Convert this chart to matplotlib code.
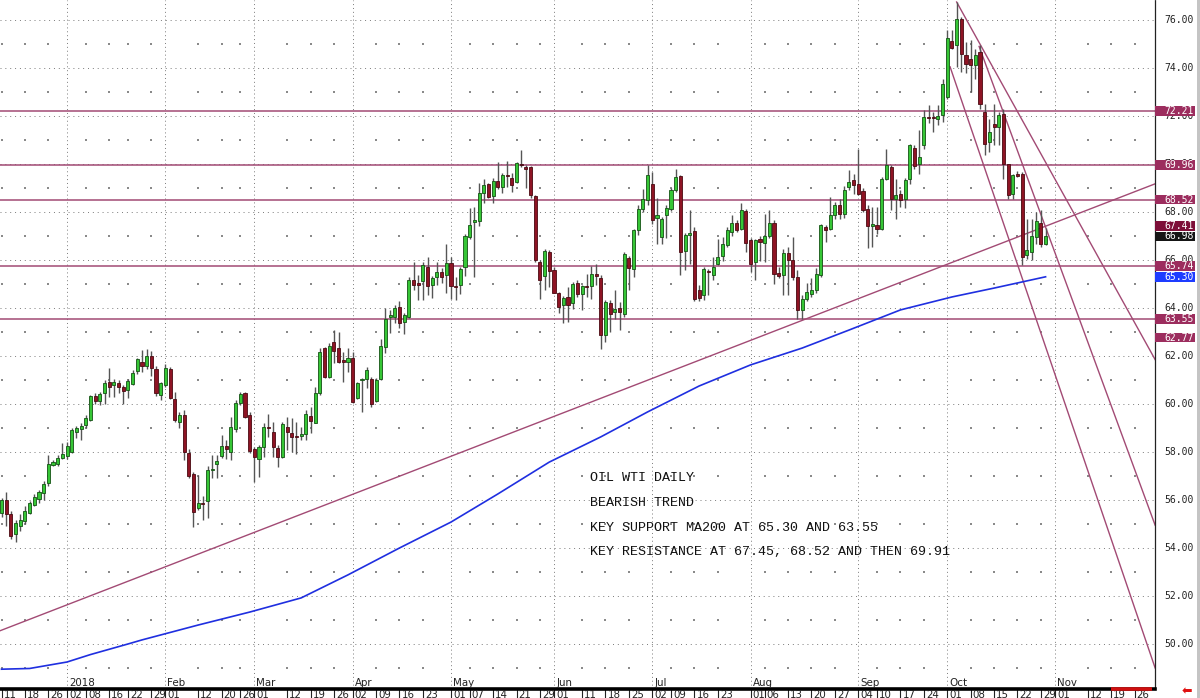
import numpy as np
import pandas as pd
import matplotlib
matplotlib.use("Agg")
import matplotlib.pyplot as plt
import matplotlib.transforms as mtransforms
from matplotlib.patches import Rectangle

# ---------------- data ----------------
first_day = "2017-12-11"
last_day = "2018-10-30"
axis_end_day = "2018-11-30"
exchange_holidays = ["2017-12-25", "2018-01-01", "2018-01-15", "2018-02-19",
                     "2018-03-30", "2018-05-28", "2018-07-04", "2018-09-03"]

opens = [55.47, 55.99, 55.43, 54.57, 54.91, 55.12, 55.47, 55.81, 56.06, 56.30,
         56.71, 57.47, 57.51, 57.75, 57.85, 58.02, 58.85, 58.95, 59.13, 59.33,
         60.34, 60.12, 60.44, 60.92, 60.78, 60.88, 60.72, 60.58, 60.85, 61.38,
         61.75, 61.60, 62.00, 61.45, 60.38, 60.80, 61.45, 60.20, 59.24, 59.54,
         57.94, 57.08, 55.65, 55.87, 55.96, 57.25, 57.49, 57.83, 58.25, 58.00,
         58.94, 60.06, 60.47, 59.54, 58.11, 57.70, 58.22, 59.05, 58.85, 58.15,
         57.78, 59.06, 58.78, 58.66, 58.68, 58.75, 59.51, 59.22, 60.47, 62.32,
         61.14, 62.60, 62.32, 61.83, 61.76, 61.90, 60.24, 61.00, 61.03, 61.03,
         60.14, 61.03, 62.39, 63.64, 63.61, 64.03, 63.43, 63.64, 65.17, 65.06,
         65.14, 65.72, 64.96, 65.31, 65.51, 65.38, 65.86, 64.92, 64.96, 65.72,
         66.97, 67.60, 67.64, 68.81, 69.15, 68.67, 69.29, 69.03, 69.53, 69.40,
         69.26, 70.00, 69.89, 69.86, 68.67, 65.93, 65.33, 66.35, 65.58, 64.64,
         64.13, 64.46, 64.22, 65.05, 64.60, 64.92, 64.92, 65.43, 65.24, 62.86,
         64.22, 63.83, 64.00, 63.76, 66.08, 65.63, 67.23, 68.14, 68.49, 69.18,
         67.75, 66.96, 67.86, 68.14, 68.90, 69.50, 66.36, 67.03, 67.19, 64.73,
         64.53, 65.56, 65.36, 65.85, 66.17, 66.64, 67.17, 67.56, 67.31, 68.03,
         66.82, 65.92, 66.89, 66.72, 67.00, 67.56, 65.46, 65.39, 66.31, 65.99,
         65.29, 63.90, 64.39, 64.60, 64.74, 65.36, 67.38, 67.31, 67.89, 68.31,
         67.90, 69.04, 69.32, 69.18, 68.86, 68.14, 67.43, 67.47, 67.31, 69.39,
         69.88, 68.56, 68.77, 68.56, 69.39, 70.67, 70.01, 70.78, 71.96, 71.92,
         71.86, 72.03, 72.79, 75.11, 74.95, 76.06, 74.53, 74.39, 74.14, 74.67,
         72.17, 70.92, 71.68, 71.54, 72.10, 69.99, 68.76, 69.60, 69.60, 66.19,
         66.33, 66.96, 67.56, 66.68]
highs = [56.10, 56.34, 55.56, 55.15, 55.40, 55.74, 55.95, 56.23, 56.43, 56.78,
         57.88, 57.68, 57.88, 58.37, 58.40, 58.99, 59.10, 59.20, 59.54, 60.37,
         60.44, 60.51, 60.99, 61.48, 61.03, 60.99, 60.78, 61.06, 61.41, 61.92,
         62.23, 62.30, 62.20, 61.60, 60.93, 61.65, 61.55, 60.50, 59.68, 59.75,
         58.13, 57.18, 57.04, 56.17, 57.42, 57.88, 57.88, 58.70, 58.50, 59.44,
         60.17, 60.50, 60.50, 59.68, 58.22, 58.30, 59.20, 59.60, 59.27, 58.29,
         59.27, 59.47, 59.40, 59.26, 59.06, 59.75, 59.89, 60.72, 62.32, 62.39,
         62.53, 63.08, 63.01, 62.18, 62.32, 62.18, 60.93, 61.07, 61.56, 61.14,
         61.07, 62.69, 63.99, 63.92, 64.12, 64.31, 63.78, 65.31, 65.93, 65.38,
         65.93, 66.14, 65.33, 65.93, 65.65, 66.67, 66.14, 65.31, 65.72, 67.08,
         68.15, 68.22, 69.19, 69.36, 69.22, 69.40, 70.10, 69.61, 70.14, 69.61,
         70.10, 70.58, 69.96, 69.92, 68.71, 66.00, 66.44, 66.42, 65.72, 64.68,
         64.50, 64.87, 65.08, 65.15, 64.94, 65.43, 65.75, 65.85, 65.36, 64.32,
         64.32, 64.74, 64.25, 66.33, 66.17, 67.30, 68.28, 68.97, 69.94, 69.67,
         68.58, 67.79, 68.28, 69.00, 69.80, 69.55, 67.14, 68.07, 67.37, 64.94,
         65.71, 65.64, 66.13, 66.89, 66.96, 67.38, 67.86, 67.65, 68.39, 68.14,
         66.92, 66.86, 67.00, 67.93, 68.07, 67.65, 65.71, 66.47, 66.54, 66.96,
         65.57, 64.53, 65.06, 65.25, 65.67, 67.48, 67.45, 68.63, 68.42, 68.56,
         69.10, 69.74, 69.60, 70.64, 69.00, 68.28, 68.21, 68.21, 69.46, 70.64,
         69.95, 69.39, 68.90, 69.42, 70.85, 70.78, 71.40, 72.24, 72.47, 72.17,
         72.44, 73.56, 75.57, 75.57, 76.75, 76.13, 75.08, 75.15, 74.81, 74.94,
         72.51, 71.89, 72.51, 72.17, 72.31, 70.01, 69.60, 69.70, 69.67, 67.72,
         67.70, 68.00, 68.07, 67.33]
lows = [55.30, 54.91, 54.36, 54.27, 54.70, 55.01, 55.40, 55.74, 55.88, 56.02,
        56.57, 57.40, 57.40, 57.70, 57.70, 57.95, 58.60, 58.50, 59.02, 59.29,
        59.98, 59.96, 60.02, 60.30, 60.30, 60.44, 60.02, 60.23, 60.78, 61.27,
        61.34, 61.45, 61.15, 60.35, 60.17, 60.70, 60.20, 59.26, 58.99, 57.67,
        56.90, 54.89, 55.58, 55.17, 55.24, 56.90, 56.90, 57.74, 57.70, 57.67,
        58.85, 59.96, 59.40, 57.94, 56.76, 56.95, 57.80, 58.64, 57.78, 57.39,
        57.74, 58.08, 58.00, 57.92, 58.50, 58.50, 58.81, 59.20, 60.38, 61.07,
        61.07, 61.70, 61.70, 60.93, 61.35, 60.03, 60.20, 59.68, 60.65, 59.89,
        60.10, 61.00, 62.14, 62.94, 63.36, 63.15, 62.92, 63.57, 64.75, 64.33,
        64.33, 64.54, 64.40, 64.96, 65.03, 64.61, 64.36, 64.33, 64.58, 65.33,
        66.86, 65.31, 67.42, 68.36, 68.57, 68.36, 68.94, 68.81, 69.06, 68.85,
        69.19, 69.89, 68.99, 68.57, 65.93, 64.36, 64.75, 64.89, 64.61, 63.78,
        63.36, 63.42, 63.97, 64.46, 63.90, 64.46, 64.39, 64.94, 62.30, 62.60,
        63.00, 63.55, 63.07, 63.62, 64.73, 65.29, 67.03, 68.00, 68.28, 67.51,
        66.68, 66.68, 66.92, 68.03, 68.83, 65.36, 65.57, 65.85, 64.30, 64.30,
        64.35, 64.53, 65.15, 65.78, 65.95, 66.54, 67.00, 67.17, 67.24, 66.33,
        65.50, 65.15, 65.95, 65.92, 66.92, 65.01, 65.25, 64.53, 64.53, 65.15,
        63.53, 63.53, 64.28, 64.46, 64.64, 65.29, 66.73, 67.24, 67.70, 67.72,
        67.75, 68.90, 68.76, 68.69, 68.00, 66.50, 66.54, 67.10, 67.24, 69.32,
        68.07, 67.72, 68.21, 68.17, 69.18, 69.81, 69.60, 70.64, 71.72, 71.33,
        71.61, 71.75, 72.72, 74.81, 74.04, 73.83, 73.81, 73.00, 73.56, 72.30,
        70.39, 70.50, 70.78, 70.78, 69.39, 68.56, 68.56, 69.46, 65.78, 66.06,
        65.99, 66.68, 66.54, 66.64]
closes = [56.02, 55.40, 54.50, 55.05, 55.15, 55.54, 55.88, 56.12, 56.34, 56.67,
          57.50, 57.58, 57.75, 57.91, 58.25, 58.92, 59.02, 59.10, 59.43, 60.33,
          60.12, 60.40, 60.88, 60.72, 60.90, 60.72, 60.54, 60.95, 61.31, 61.86,
          61.59, 62.00, 61.50, 60.45, 60.86, 61.50, 60.24, 59.33, 59.54, 58.01,
          57.00, 55.50, 55.89, 55.84, 57.25, 57.30, 57.64, 58.25, 58.11, 59.03,
          60.03, 60.42, 59.47, 58.06, 57.78, 58.22, 59.06, 59.00, 58.20, 57.78,
          59.17, 58.85, 58.64, 58.62, 58.74, 59.58, 59.30, 60.44, 62.18, 61.14,
          62.43, 62.22, 61.76, 61.76, 61.90, 60.10, 60.89, 61.02, 61.42, 60.00,
          61.00, 62.43, 63.53, 63.67, 63.99, 63.36, 63.71, 65.17, 64.96, 64.96,
          65.79, 64.92, 65.24, 65.51, 65.31, 65.89, 64.92, 64.88, 65.63, 67.00,
          67.46, 67.65, 68.78, 69.13, 68.61, 69.31, 69.03, 69.54, 69.50, 69.13,
          70.06, 69.96, 69.78, 68.71, 66.00, 65.17, 66.39, 65.56, 64.64, 64.06,
          64.40, 64.11, 65.01, 64.60, 64.92, 64.88, 65.43, 65.33, 62.86, 64.25,
          63.76, 63.97, 63.83, 66.26, 65.67, 67.23, 68.14, 68.55, 69.53, 67.65,
          67.86, 67.72, 68.17, 68.90, 69.46, 66.33, 67.05, 67.14, 64.39, 64.42,
          65.64, 65.50, 65.71, 66.13, 66.68, 67.24, 67.56, 67.24, 68.07, 66.71,
          65.85, 66.82, 66.75, 67.00, 67.56, 65.43, 65.32, 66.31, 65.99, 65.29,
          63.90, 64.36, 64.67, 64.74, 65.43, 67.45, 67.24, 67.89, 68.31, 67.93,
          68.90, 69.25, 69.11, 68.76, 68.07, 67.40, 67.47, 67.30, 69.39, 69.95,
          68.56, 68.70, 68.49, 69.32, 70.78, 69.92, 70.29, 71.96, 71.92, 71.90,
          72.00, 73.35, 75.25, 74.83, 76.03, 74.60, 74.18, 74.11, 74.53, 72.51,
          70.85, 71.33, 71.54, 72.03, 70.01, 68.70, 69.56, 69.50, 66.13, 66.40,
          67.00, 67.61, 66.68, 66.98]

# 200-day moving average, read at selected trading-day positions
ma200_days = [0, 6, 14, 19, 27, 30, 42, 53, 64, 74, 85, 96, 106, 117,
              128, 138, 149, 160, 171, 181, 192, 203, 212, 223]
ma200_values = [48.95, 48.98, 49.25, 49.56, 50.00, 50.17, 50.79, 51.33, 51.92,
                52.88, 54.00, 55.08, 56.25, 57.58, 58.63, 59.67, 60.75, 61.63,
                62.33, 63.08, 63.92, 64.46, 64.83, 65.30]

# horizontal support / resistance levels
levels = [72.21, 69.96, 68.52, 65.74, 63.55]
# right-axis tags
tag_values = [72.21, 69.96, 68.52, 67.41, 66.98, 65.74, 65.30, 63.55, 62.77]
tag_kinds = ["level", "level", "level", "dark", "last", "level", "ma", "level", "level"]

# trend lines: (trading-day position, price) end points
trend_lines = {
    "support":  ([-1.0, 247.0], [50.50, 69.22]),
    "down_1":   ([204.0, 246.4], [76.75, 61.85]),
    "down_2":   ([208.8, 246.4], [74.90, 54.95]),
    "down_3":   ([202.6, 246.4], [74.05, 49.00]),
}

tick_dates = ["2017-12-11", "2017-12-18", "2017-12-26", "2018-01-02", "2018-01-08",
              "2018-01-16", "2018-01-22", "2018-01-29", "2018-02-01", "2018-02-12",
              "2018-02-20", "2018-02-26", "2018-03-01", "2018-03-12", "2018-03-19",
              "2018-03-26", "2018-04-02", "2018-04-09", "2018-04-16", "2018-04-23",
              "2018-05-01", "2018-05-07", "2018-05-14", "2018-05-21", "2018-05-29",
              "2018-06-01", "2018-06-11", "2018-06-18", "2018-06-25", "2018-07-02",
              "2018-07-09", "2018-07-16", "2018-07-23", "2018-08-01", "2018-08-06",
              "2018-08-13", "2018-08-20", "2018-08-27", "2018-09-04", "2018-09-10",
              "2018-09-17", "2018-09-24", "2018-10-01", "2018-10-08", "2018-10-15",
              "2018-10-22", "2018-10-29", "2018-11-01", "2018-11-12", "2018-11-19",
              "2018-11-26"]
month_dates = ["2018-01-02", "2018-02-01", "2018-03-01", "2018-04-02", "2018-05-01",
               "2018-06-01", "2018-07-02", "2018-08-01", "2018-09-04", "2018-10-01",
               "2018-11-01"]
month_labels = ["2018", "Feb", "Mar", "Apr", "May", "Jun", "Jul", "Aug", "Sep", "Oct", "Nov"]

notes = ["OIL WTI DAILY",
         "BEARISH TREND",
         "KEY SUPPORT MA200 AT 65.30 AND 63.55",
         "KEY RESISTANCE AT 67.45, 68.52 AND THEN 69.91"]

# ---------------- day axis ----------------
cbd = pd.offsets.CustomBusinessDay(holidays=exchange_holidays)
trading = pd.date_range(first_day, last_day, freq=cbd)
future = pd.bdate_range(pd.Timestamp(last_day) + pd.Timedelta(days=1), axis_end_day)
all_days = trading.append(future)
pos = {d.strftime("%Y-%m-%d"): i for i, d in enumerate(all_days)}

o = np.array(opens); h = np.array(highs); l = np.array(lows); c = np.array(closes)
n = min(len(o), len(trading))
o, h, l, c = o[:n], h[:n], l[:n], c[:n]
x = np.arange(n)

# ---------------- figure ----------------
W, H = 1200, 698
fig = plt.figure(figsize=(W / 100, H / 100), dpi=100)
fig.patch.set_facecolor("white")
plot_right = 1155
plot_bottom = 689
ax = fig.add_axes([0, (H - plot_bottom) / H, plot_right / W, plot_bottom / H])
ax.set_facecolor("white")

px_per_day = 4.682
x_left = -1.5 / px_per_day
x_right = (plot_right - 1.5) / px_per_day
ax.set_xlim(x_left, x_right)
y_top = 76 + 20 / 24
y_bot = 76 - (plot_bottom - 20) / 24
ax.set_ylim(y_bot, y_top)

for s in ["top", "left"]:
    ax.spines[s].set_visible(False)
ax.spines["bottom"].set_linewidth(2.6)
ax.spines["bottom"].set_color("black")
ax.spines["right"].set_linestyle((0, (1, 1)))
ax.spines["right"].set_color("#222222")
ax.spines["right"].set_linewidth(0.9)
ax.set_xticks([]); ax.set_yticks([])

grid_col = "#7a7a7a"
# dense dotted grid at even prices
for p in range(50, 77, 2):
    ax.axhline(p, color=grid_col, lw=0.7, ls=(0, (1, 4)), zorder=1)
# month verticals
month_pos = [pos[d] for d in month_dates]
for mp in month_pos:
    ax.axvline(mp, color=grid_col, lw=0.7, ls=(0, (1, 3)), zorder=1)
# sparse dots: weekly positions x odd prices
week_pos = [pos[d] for d in tick_dates if d not in month_dates]
dx, dy = [], []
for wp in week_pos:
    for p in range(49, 77, 2):
        dx.append(wp); dy.append(p)
ax.scatter(dx, dy, s=0.7, c="#8a8a8a", marker="s", linewidths=0, zorder=1)

lvl_col = "#a24a74"
for lv in levels:
    ax.axhline(lv, color=lvl_col, lw=1.1, zorder=2)
for key, (tx, ty) in trend_lines.items():
    ax.plot(tx, ty, color=lvl_col, lw=1.0, zorder=2)

# MA200
ax.plot(ma200_days, ma200_values, color="#1f2fe0", lw=1.2, zorder=2)

# candles
ax.vlines(x, l, h, color="#555555", lw=1.0, zorder=3)
up = c >= o
body_b = np.minimum(o, c)
body_h = np.maximum(np.abs(c - o), 0.05)
ax.bar(x[up], body_h[up], bottom=body_b[up], width=0.66, color="#36c636",
       edgecolor="#145214", linewidth=0.6, zorder=4)
ax.bar(x[~up], body_h[~up], bottom=body_b[~up], width=0.66, color="#8e1424",
       edgecolor="#4a0a12", linewidth=0.6, zorder=4)

# right axis labels
blend = mtransforms.blended_transform_factory(ax.transAxes, ax.transData)
lab_x = 1164.5 / plot_right
for p in range(50, 77, 2):
    ax.text(lab_x, p, f"{p:.2f}", transform=blend, ha="left", va="center",
            fontsize=7.0, family="DejaVu Sans Mono", color="#222222", clip_on=False)

tag_colors = {"level": "#9c2d5e", "dark": "#7d0f38", "last": "#151515", "ma": "#1e3cff"}
box_w = 39.5 / plot_right
box_h = 9.6 / 24
for v, k in zip(tag_values, tag_kinds):
    ax.add_patch(Rectangle((1.0, v - box_h / 2), box_w, box_h, transform=blend,
                           facecolor=tag_colors[k], edgecolor="none", clip_on=False, zorder=10))
    ax.text(lab_x, v, f"{v:.2f}", transform=blend, ha="left", va="center",
            fontsize=7.0, family="DejaVu Sans Mono", color="white", clip_on=False, zorder=11)

# month labels inside plot (bottom row)
bl_x = mtransforms.blended_transform_factory(ax.transData, ax.transAxes)
for mp, ml in zip(month_pos, month_labels):
    ax.text(mp + 0.45, 6 / plot_bottom, ml, transform=bl_x, ha="left", va="center",
            fontsize=7.4, color="#222222", clip_on=False)

# day labels below axis line
tick_pos = [pos[d] for d in tick_dates]
for tp, td in zip(tick_pos, tick_dates):
    ax.plot([tp, tp], [0, -10 / plot_bottom], transform=bl_x, color="#222222",
            lw=0.8, clip_on=False)
    ax.text(tp + 0.45, -5.5 / plot_bottom, td[-2:], transform=bl_x, ha="left",
            va="center", fontsize=7.4, color="#222222", clip_on=False)

# red marker on the axis line
ax.plot([pos["2018-11-19"], x_right - 0.7], [0, 0], transform=bl_x, color="#d01010",
        lw=2.6, clip_on=False, solid_capstyle="butt", zorder=12)

# notes
note_y = [478, 503, 528, 552]
for t, yy in zip(notes, note_y):
    fig.text(590 / W, 1 - yy / H, t, family="Liberation Mono", fontsize=9.6,
             ha="left", va="center", color="#111111")

# frame decorations
fig.add_artist(Rectangle((1197 / W, 0), 3 / W, 1, transform=fig.transFigure,
                         facecolor="#c4c4c4", edgecolor="none"))
fig.text(1187 / W, 1 - 692 / H, "\u2b05", color="#e01010", fontsize=9,
         ha="center", va="center", family="DejaVu Sans")

fig.savefig("out.png", dpi=100, facecolor="white")
